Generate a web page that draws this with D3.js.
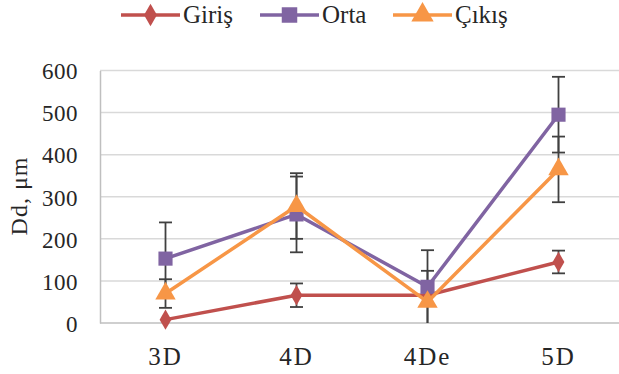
<!DOCTYPE html>
<html>
<head>
<meta charset="utf-8">
<script src="https://cdn.jsdelivr.net/npm/d3@7"></script>
<style>
  html, body { margin: 0; padding: 0; background: #fff; }
  svg { display: block; }
</style>
</head>
<body>
<svg id="chart" width="619" height="374"></svg>
<script>
// Categories and series
const categories = ["3D", "4D", "4De", "5D"];
const seriesNames = ["Giriş", "Orta", "Çıkış"];
const girisValues = [8, 66, 66, 145];
const ortaValues = [153, 258, 86, 495];
const cikisValues = [70, 278, 50, 365];
// Error half-widths (± standard deviation)
const girisErrors = [0, 28, 0, 27];
const ortaErrors = [86, 90, 87, 90];
const cikisErrors = [34, 78, 74, 78];
const yTicks = [0, 100, 200, 300, 400, 500, 600];

const SERIF = "'Liberation Serif'";
const INK = "#262626";
const svg = d3.select("#chart");
const plotLeft = 100, plotTop = 70.5, plotBottom = 323;
const colors = ["#C0504D", "#8064A2", "#F79646"];
const symbols = [d3.symbolDiamond, d3.symbolSquare, d3.symbolTriangle];
const symSizes = [120, 200, 180];

const x = d3.scaleBand().domain(categories).range([plotLeft, 624]).paddingInner(0).paddingOuter(0);
const y = d3.scaleLinear().domain([0, 600]).range([plotBottom, plotTop]);
const cx = c => x(c) + x.bandwidth() / 2;

// gridlines
svg.append("g").selectAll("line").data(yTicks.filter(t => t > 0)).join("line")
  .attr("x1", plotLeft).attr("x2", 619)
  .attr("y1", d => y(d)).attr("y2", d => y(d))
  .attr("stroke", "#d9d9d9").attr("stroke-width", 1.5);

// y axis
const yAxis = d3.axisLeft(y).tickValues(yTicks).tickSize(0).tickPadding(22);
const gy = svg.append("g").attr("transform", `translate(${plotLeft},0)`).call(yAxis)
  .attr("font-family", null).attr("font-size", null);
gy.select(".domain").attr("stroke", "#bfbfbf").attr("stroke-width", 1.5);
gy.selectAll("text").style("font-family", SERIF).style("font-size", "23px").attr("fill", INK)
  .attr("dy", "0.36em").attr("letter-spacing", 0.5);

// x axis
const xAxis = d3.axisBottom(x).tickSize(0).tickPadding(24);
const gx = svg.append("g").attr("transform", `translate(0,${plotBottom})`).call(xAxis)
  .attr("font-family", null).attr("font-size", null);
gx.select(".domain").attr("stroke", "#bfbfbf").attr("stroke-width", 1.5).attr("d", `M${plotLeft},0H619`);
gx.selectAll("text").style("font-family", SERIF).style("font-size", "25px").attr("fill", INK)
  .attr("dy", "0.71em").attr("letter-spacing", 2);

// y title
svg.append("text")
  .attr("transform", "translate(27,196) rotate(-90)")
  .attr("text-anchor", "middle")
  .style("font-family", SERIF).style("font-size", "24px").attr("fill", INK)
  .attr("letter-spacing", 1)
  .text("Dd, μm");

const allValues = [girisValues, ortaValues, cikisValues];
const allErrors = [girisErrors, ortaErrors, cikisErrors];

const plot = svg.append("g");

// error bars
allValues.forEach((vals, s) => {
  const g = plot.append("g");
  vals.forEach((v, i) => {
    const e = allErrors[s][i];
    if (!e) return;
    const px = cx(categories[i]);
    const lo = Math.max(0, v - e), hi = v + e;
    g.append("line").attr("x1", px).attr("x2", px).attr("y1", y(lo)).attr("y2", y(hi))
      .attr("stroke", "#404040").attr("stroke-width", 1.8);
    [hi, v - e].forEach(t => {
      if (t < 0) return;
      g.append("line").attr("x1", px - 6.5).attr("x2", px + 6.5).attr("y1", y(t)).attr("y2", y(t))
        .attr("stroke", "#404040").attr("stroke-width", 1.8);
    });
  });
});

// lines and markers
const line = d3.line().x((d, i) => cx(categories[i])).y(d => y(d));
allValues.forEach((vals, s) => {
  plot.append("path").datum(vals).attr("d", line)
    .attr("fill", "none").attr("stroke", colors[s]).attr("stroke-width", 3.5)
    .attr("stroke-linejoin", "round");
  plot.append("g").selectAll("path").data(vals).join("path")
    .attr("transform", (d, i) => `translate(${cx(categories[i])},${y(d)})`)
    .attr("d", d3.symbol().type(symbols[s]).size(symSizes[s]))
    .attr("fill", colors[s]);
});

// legend
const legendX = [121, 260, 393];
const legend = svg.append("g");
seriesNames.forEach((name, s) => {
  const g = legend.append("g").attr("transform", `translate(${legendX[s]},15)`);
  g.append("line").attr("x1", 0).attr("x2", 59).attr("y1", 0).attr("y2", 0)
    .attr("stroke", colors[s]).attr("stroke-width", 3.5);
  g.append("path").attr("transform", "translate(29.5,0)")
    .attr("d", d3.symbol().type(symbols[s]).size(symSizes[s] * 1.2)).attr("fill", colors[s]);
  g.append("text").attr("x", 62).attr("y", 8)
    .style("font-family", SERIF).style("font-size", "25px").attr("fill", INK).text(name);
});
</script>
</body>
</html>
